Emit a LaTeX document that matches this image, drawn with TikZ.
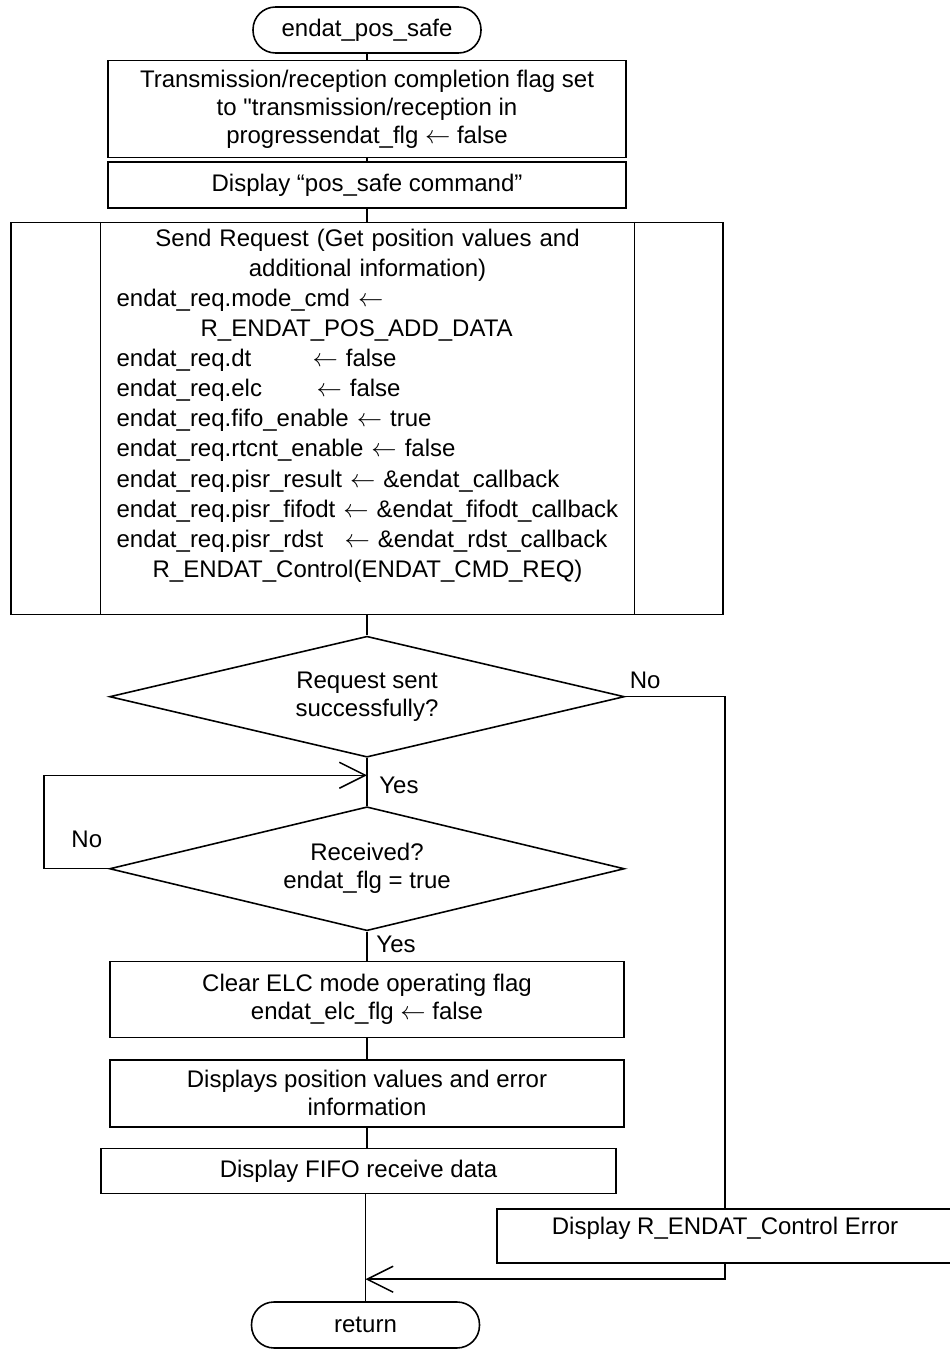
\documentclass[tikz,border=0pt]{standalone}
\usepackage{fontspec}
\setmainfont{Liberation Sans}
\usetikzlibrary{arrows.meta,positioning,calc,shapes.geometric}
\newcommand{\midline}[1]{\makebox[10.04cm][c]{#1}}
\newcommand{\fieldto}[2]{\makebox[#1][l]{#2}}

\begin{document}
\begin{tikzpicture}[
  x=0.02cm, y=-0.02cm,
  font=\fontsize{13.66pt}{15.9pt}\selectfont,
  terminal/.style={draw,line width=0.9pt,rounded corners=0.45cm,
    minimum width=4.56cm,minimum height=0.92cm,inner sep=0pt},
  procbox/.style={draw,line width=0.9pt,align=center,minimum width=10.36cm,inner sep=0pt},
  subbox/.style={draw,line width=0.9pt,minimum width=14.24cm,minimum height=7.84cm,inner sep=0pt},
  decision/.style={draw,diamond,aspect=4.2,line width=0.9pt,align=center,
    minimum width=10.3cm,minimum height=2.42cm,inner sep=0pt},
  lbl/.style={inner sep=0pt},
  flow/.style={line width=0.85pt},
  arr/.style={flow,-{Straight Barb[length=0.52cm,width=0.52cm,line width=0.85pt]}}]

  \useasboundingbox (0,0) rectangle (949,1354);

  \node[terminal] (start) at (367,30) {endat\_pos\_safe};
  \node[procbox,minimum height=1.94cm,below=0.12cm of start] (flag)
    {Transmission/reception completion flag set\\to \textquotedbl transmission/reception in\\progressendat\_flg $\leftarrow$ false};
  \draw[flow] (start) -- (flag);

  \node[procbox,minimum height=0.92cm,below=0.06cm of flag] (shownote)
    {Display “pos\_safe command”};
  \draw[flow] (flag) -- (shownote);

  % send request (predefined process)
  \node[subbox,below=0.26cm of shownote] (req) {};
  \draw[flow] ([xshift=1.8cm]req.north west) -- ([xshift=1.8cm]req.south west);
  \draw[flow] ([xshift=-1.78cm]req.north east) -- ([xshift=-1.78cm]req.south east);
  \node[anchor=north west,inner sep=0pt,text width=10.04cm,align=left,
    font=\fontsize{13.66pt}{17.1pt}\selectfont] (reqtext)
    at ([xshift=2.12cm,yshift=-0.14cm]req.north west)
    {\midline{Send Request (Get position values and}\\
     \midline{additional information)}\\
     endat\_req.mode\_cmd $\leftarrow$\\
     \hspace*{1.68cm}R\_ENDAT\_POS\_ADD\_DATA\\
     \fieldto{3.92cm}{endat\_req.dt}$\leftarrow$ false\\
     \fieldto{4.0cm}{endat\_req.elc}$\leftarrow$ false\\
     endat\_req.fifo\_enable $\leftarrow$ true\\
     endat\_req.rtcnt\_enable $\leftarrow$ false\\
     endat\_req.pisr\_result $\leftarrow$ \&endat\_callback\\
     endat\_req.pisr\_fifodt $\leftarrow$ \&endat\_fifodt\_callback\\
     \fieldto{4.56cm}{endat\_req.pisr\_rdst}$\leftarrow$ \&endat\_rdst\_callback\\
     \midline{R\_ENDAT\_Control(ENDAT\_CMD\_REQ)}};
  \draw[flow] (shownote) -- (req);

  % decisions
  \node[decision,below=0.4cm of req] (sent) {Request sent\\successfully?};
  \draw[flow] (req) -- (sent);
  \node[decision,minimum height=2.48cm,below=0.96cm of sent] (rcvd)
    {Received?\\endat\_flg = true};
  \coordinate (join) at ($(sent.south)!0.36!(rcvd.north)$);
  \draw[flow] (sent) -- (rcvd);
  \draw[arr] (rcvd.west) -- ++(-1.3cm,0) |- (join);
  \node[lbl] (nosent) at ([xshift=0.4cm,yshift=0.32cm]sent.east) {No};
  \node[lbl] (yessent) at ([xshift=0.64cm,yshift=-0.54cm]sent.south) {Yes};
  \node[lbl] (norcvd) at ([xshift=-0.44cm,yshift=0.58cm]rcvd.west) {No};
  \node[lbl] (yesrcvd) at ([xshift=0.58cm,yshift=-0.26cm]rcvd.south) {Yes};

  \node[procbox,minimum width=10.28cm,minimum height=1.52cm,below=0.58cm of rcvd] (clrflg)
    {Clear ELC mode operating flag\\endat\_elc\_flg $\leftarrow$ false};
  \draw[flow] (rcvd) -- (clrflg);
  \node[procbox,minimum width=10.28cm,minimum height=1.34cm,below=0.42cm of clrflg] (showpos)
    {Displays position values and error\\information};
  \draw[flow] (clrflg) -- (showpos);
  \node[procbox,minimum width=10.3cm,minimum height=0.9cm,below=0.4cm of showpos,xshift=-0.17cm] (showfifo)
    {Display FIFO receive data};
  \draw[flow] (showpos) -- (showpos |- showfifo.north);

  \node[terminal,below=2.14cm of showfifo,xshift=0.14cm] (ret) {return};
  \draw[flow] (showfifo.south -| ret) -- (ret);

  % error branch
  \node[procbox,minimum width=9.12cm,minimum height=1.08cm,text height=0.5cm,text depth=0.56cm] (err)
    at (725,1236) {Display R\_ENDAT\_Control Error};
  \coordinate (merge) at ($(ret.north)+(0,0.44cm)$);
  \draw[flow] (sent.east) -| (err.north);
  \draw[arr] (err.south) |- (merge);

\end{tikzpicture}
\end{document}
